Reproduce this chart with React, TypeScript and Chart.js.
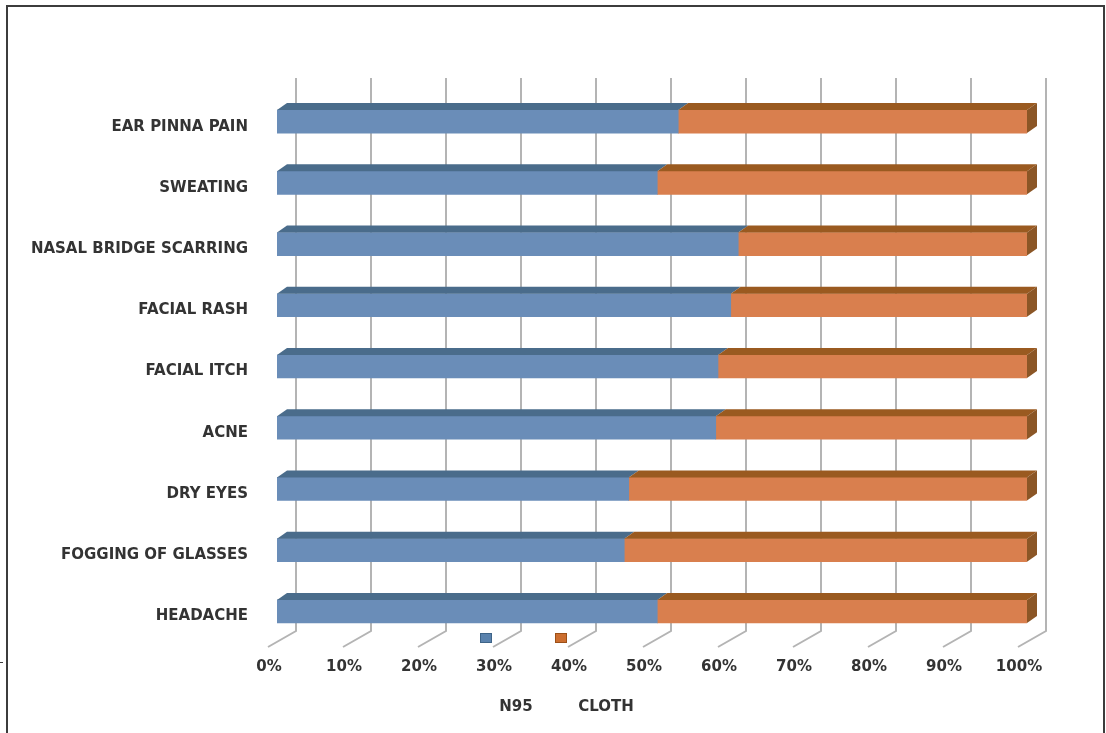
import React, { useEffect, useRef } from "react";
import { Chart, registerables } from "chart.js";

Chart.register(...registerables);

const categories = [
  "EAR PINNA PAIN",
  "SWEATING",
  "NASAL BRIDGE SCARRING",
  "FACIAL RASH",
  "FACIAL ITCH",
  "ACNE",
  "DRY EYES",
  "FOGGING OF GLASSES",
  "HEADACHE",
];
const n95Values = [53.5, 50.7, 61.5, 60.5, 58.8, 58.5, 46.9, 46.3, 50.7];
const clothValues = [46.5, 49.3, 38.5, 39.5, 41.2, 41.5, 53.1, 53.7, 49.3];
const seriesNames = ["N95", "CLOTH"];
const xTickValues = [0, 10, 20, 30, 40, 50, 60, 70, 80, 90, 100];

const FONT = "'DejaVu Sans', 'Open Sans', sans-serif";
const TEXT_COLOR = "#333333";

const frontColors = ["#6a8db8", "#d97f4e"];
const topColors = ["#4a6c8b", "#9a5a20"];
const sideColor = "#8b5626";
const legendFill = ["#5a82ad", "#cc6e2f"];
const legendStroke = ["#3e6488", "#9c5018"];

const DEPTH_X = 10;
const DEPTH_Y = 7;
const WALL_X = 19;

const threeDPlugin = {
  id: "threeD",
  beforeDatasetsDraw(chart: any) {
    const { ctx, chartArea } = chart;
    const xs = chart.scales.x;
    const wallTop = chartArea.top - 13;
    const wallBottom = chartArea.bottom - 11;
    const floorFrontY = chartArea.bottom + 5;
    ctx.save();
    ctx.strokeStyle = "#b4b4b4";
    ctx.lineWidth = 2;
    for (const v of xTickValues) {
      const px = xs.getPixelForValue(v);
      ctx.beginPath();
      ctx.moveTo(px + WALL_X, wallTop);
      ctx.lineTo(px + WALL_X, wallBottom);
      ctx.lineTo(px - 9, floorFrontY);
      ctx.stroke();
    }
    ctx.restore();
  },
  afterDatasetsDraw(chart: any) {
    const { ctx } = chart;
    const nSets = chart.data.datasets.length;
    ctx.save();
    for (let d = 0; d < nSets; d++) {
      const meta = chart.getDatasetMeta(d);
      meta.data.forEach((bar: any) => {
        const { x, y, base, height } = bar.getProps(["x", "y", "base", "height"], true);
        const top = y - height / 2;
        const bottom = y + height / 2;
        const x0 = Math.min(x, base);
        const x1 = Math.max(x, base);
        ctx.fillStyle = topColors[d];
        ctx.beginPath();
        ctx.moveTo(x0, top);
        ctx.lineTo(x1, top);
        ctx.lineTo(x1 + DEPTH_X, top - DEPTH_Y);
        ctx.lineTo(x0 + DEPTH_X, top - DEPTH_Y);
        ctx.closePath();
        ctx.fill();
        if (d === nSets - 1) {
          ctx.fillStyle = sideColor;
          ctx.beginPath();
          ctx.moveTo(x1, top);
          ctx.lineTo(x1 + DEPTH_X, top - DEPTH_Y);
          ctx.lineTo(x1 + DEPTH_X, bottom - DEPTH_Y);
          ctx.lineTo(x1, bottom);
          ctx.closePath();
          ctx.fill();
        }
      });
    }
    ctx.restore();
  },
  afterDraw(chart: any) {
    const { ctx } = chart;
    ctx.save();
    // legend
    const boxes = [480, 555];
    const labelX = [516, 606];
    ctx.font = `bold 15px ${FONT}`;
    ctx.textAlign = "center";
    ctx.textBaseline = "middle";
    chart.data.datasets.forEach((ds: any, i: number) => {
      ctx.fillStyle = legendFill[i];
      ctx.strokeStyle = legendStroke[i];
      ctx.lineWidth = 1;
      ctx.fillRect(boxes[i], 633, 12, 10);
      ctx.strokeRect(boxes[i] + 0.5, 633.5, 11, 9);
      ctx.fillStyle = TEXT_COLOR;
      ctx.fillText(ds.label, labelX[i], 707);
    });
    // frame
    ctx.strokeStyle = "#3c3c3c";
    ctx.lineWidth = 2;
    ctx.beginPath();
    ctx.moveTo(7, 740);
    ctx.lineTo(7, 6);
    ctx.lineTo(1104, 6);
    ctx.lineTo(1104, 740);
    ctx.stroke();
    ctx.lineWidth = 1;
    ctx.beginPath();
    ctx.moveTo(0, 662.5);
    ctx.lineTo(3, 662.5);
    ctx.stroke();
    ctx.restore();
  },
};

export default function App() {
  const canvasRef = useRef<HTMLCanvasElement | null>(null);

  useEffect(() => {
    if (!canvasRef.current) return;
    const chart = new Chart(canvasRef.current, {
      type: "bar",
      data: {
        labels: categories,
        datasets: [
          {
            label: seriesNames[0],
            data: n95Values,
            backgroundColor: frontColors[0],
            borderWidth: 0,
            barThickness: 23,
          },
          {
            label: seriesNames[1],
            data: clothValues,
            backgroundColor: frontColors[1],
            borderWidth: 0,
            barThickness: 23,
          },
        ],
      },
      options: {
        indexAxis: "y",
        responsive: false,
        animation: false,
        layout: { padding: { left: 0, top: 91, right: 79, bottom: 0 } },
        plugins: {
          legend: { display: false },
          tooltip: { enabled: false },
          title: { display: false },
        },
        scales: {
          x: {
            stacked: true,
            min: 0,
            max: 100,
            position: "bottom",
            afterFit: (scale: any) => {
              scale.height = 91;
            },
            afterBuildTicks: (scale: any) => {
              scale.ticks = xTickValues.map((v) => ({ value: v }));
            },
            grid: { display: false, drawTicks: false },
            border: { display: false },
            ticks: {
              padding: 16,
              labelOffset: -8,
              autoSkip: false,
              maxRotation: 0,
              color: TEXT_COLOR,
              font: { family: FONT, size: 15, weight: "bold" },
              callback: (v: any) => `${v}%`,
            },
          },
          y: {
            stacked: true,
            afterFit: (scale: any) => {
              scale.width = 277;
            },
            grid: { display: false, drawTicks: false },
            border: { display: false },
            ticks: {
              padding: 29,
              labelOffset: 5,
              autoSkip: false,
              color: TEXT_COLOR,
              font: { family: FONT, size: 15, weight: "bold" },
            },
          },
        },
      },
      plugins: [threeDPlugin],
    });
    return () => chart.destroy();
  }, []);

  return (
    <div
      style={{
        position: "fixed",
        left: 0,
        top: 0,
        width: 1106,
        height: 733,
        background: "#ffffff",
        overflow: "hidden",
      }}
    >
      <canvas ref={canvasRef} width={1106} height={733} style={{ display: "block" }} />
    </div>
  );
}
